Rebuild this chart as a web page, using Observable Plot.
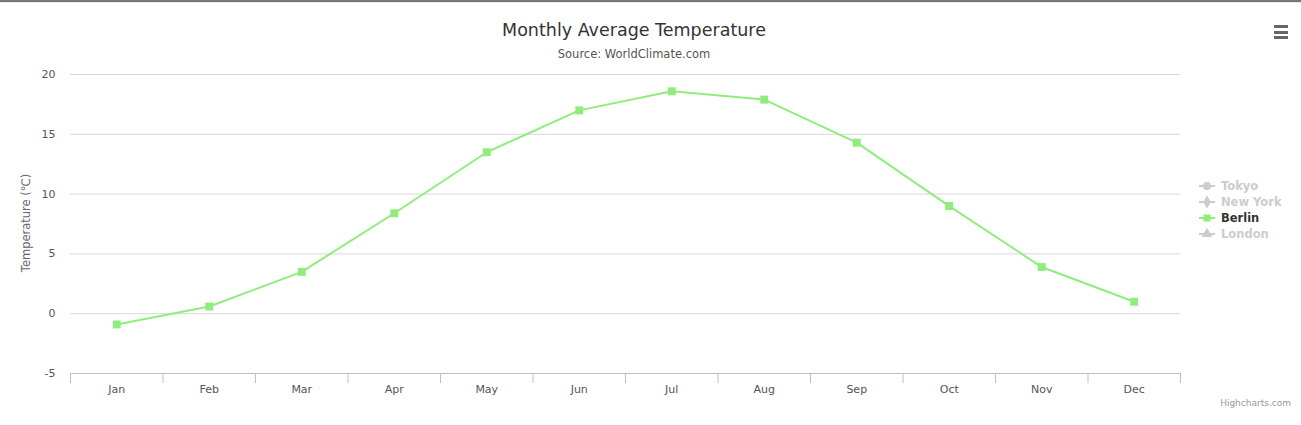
<!DOCTYPE html>
<html>
<head>
<meta charset="utf-8">
<script src="https://cdn.jsdelivr.net/npm/d3@7"></script>
<script src="https://cdn.jsdelivr.net/npm/@observablehq/plot@0.6"></script>
<style>
  html, body { margin: 0; padding: 0; background: #fff; }
  #wrap { position: relative; width: 1301px; height: 425px; overflow: hidden; font-family: "DejaVu Sans", sans-serif; }
  #topline { position: absolute; left: 0; top: 0; width: 1301px; height: 2px; background: #777; }
  #topline2 { position: absolute; left: 0; top: 2px; width: 1301px; height: 1px; background: #e8e8e8; }
  .title { position: absolute; left: 0; width: 1268px; text-align: center; white-space: nowrap; }
  #t1 { top: 20px; font-size: 17.5px; color: #333; }
  #t2 { top: 47px; font-size: 11.5px; color: #555; }
  #menu { position: absolute; left: 1274px; top: 25px; width: 14px; }
  #menu div { height: 3px; background: #666; margin-bottom: 2.5px; }
  #legend { position: absolute; left: 1199px; top: 178px; }
  .li { height: 16px; display: flex; align-items: center; font-size: 11.5px; font-weight: bold; white-space: nowrap; }
  .li svg { margin-right: 6px; }
  #credit { position: absolute; right: 10px; top: 398px; font-size: 9px; color: #999; }
  #ytitle { position: absolute; left: 26px; top: 223px; transform: translate(-50%, -50%) rotate(-90deg); font-size: 11.5px; color: #666; white-space: nowrap; }
  #chart { position: absolute; left: 0; top: 0; }
</style>
</head>
<body>
<div id="wrap">
  <div id="chart"></div>
  <div id="topline"></div>
  <div id="topline2"></div>
  <div class="title" id="t1"></div>
  <div class="title" id="t2"></div>
  <div id="menu"><div></div><div></div><div></div></div>
  <div id="ytitle"></div>
  <div id="legend"></div>
  <div id="credit">Highcharts.com</div>
</div>
<script>
const titleText = "Monthly Average Temperature";
const subtitleText = "Source: WorldClimate.com";
const yTitle = "Temperature (℃)";
const months = ["Jan","Feb","Mar","Apr","May","Jun","Jul","Aug","Sep","Oct","Nov","Dec"];
const berlin = [-0.9, 0.6, 3.5, 8.4, 13.5, 17.0, 18.6, 17.9, 14.3, 9.0, 3.9, 1.0];
const yTicks = [-5, 0, 5, 10, 15, 20];
const legendNames = ["Tokyo", "New York", "Berlin", "London"];
const legendSymbols = ["circle", "diamond", "square", "triangle"];
const legendVisible = [false, false, true, false];

const green = "#90ed7d";

document.getElementById("t1").textContent = titleText;
document.getElementById("t2").textContent = subtitleText;
document.getElementById("ytitle").textContent = yTitle;

const data = months.map((m, i) => ({i, month: m, value: berlin[i]}));
const bounds = d3.range(months.length + 1).map(k => k - 0.5);

const chart = Plot.plot({
  width: 1301,
  height: 425,
  marginLeft: 70,
  marginRight: 121,
  marginTop: 74,
  marginBottom: 52,
  style: {fontFamily: "DejaVu Sans, sans-serif", fontSize: "11px", color: "#666", background: "transparent"},
  x: {type: "linear", domain: [-0.5, 11.5]},
  y: {domain: [-5, 20]},
  marks: [
    Plot.gridY(yTicks, {stroke: "#d8d8d8", strokeOpacity: 1}),
    Plot.ruleY([-5], {stroke: "#c0c0c0"}),
    Plot.axisY({ticks: yTicks, tickSize: 0, tickPadding: 15, tickFormat: d => String(d), label: null, fill: "#555", fontSize: 11}),
    Plot.axisX({ticks: bounds, tickSize: 10, tickFormat: () => "", stroke: "#c0c0c0", strokeOpacity: 1, label: null}),
    Plot.axisX({ticks: d3.range(months.length), tickSize: 0, tickPadding: 12, tickFormat: i => months[i], label: null, fill: "#555", fontSize: 11}),
    Plot.line(data, {x: "i", y: "value", stroke: green, strokeWidth: 2}),
    Plot.dot(data, {x: "i", y: "value", symbol: "square", r: 4.5, fill: green, stroke: null})
  ]
});
document.getElementById("chart").appendChild(chart);

const symMap = {circle: d3.symbolCircle, diamond: d3.symbolDiamond, square: d3.symbolSquare, triangle: d3.symbolTriangle};
const legend = document.getElementById("legend");
legendNames.forEach((name, k) => {
  const color = legendVisible[k] ? green : "#ccc";
  const row = document.createElement("div");
  row.className = "li";
  row.style.color = legendVisible[k] ? "#333" : "#ccc";
  const path = d3.symbol(symMap[legendSymbols[k]], 50)();
  row.innerHTML = `<svg width="16" height="12"><line x1="0" x2="16" y1="6" y2="6" stroke="${color}" stroke-width="2"/><path transform="translate(8,6)" d="${path}" fill="${color}"/></svg>`;
  const span = document.createElement("span");
  span.textContent = name;
  row.appendChild(span);
  legend.appendChild(row);
});
</script>
</body>
</html>
